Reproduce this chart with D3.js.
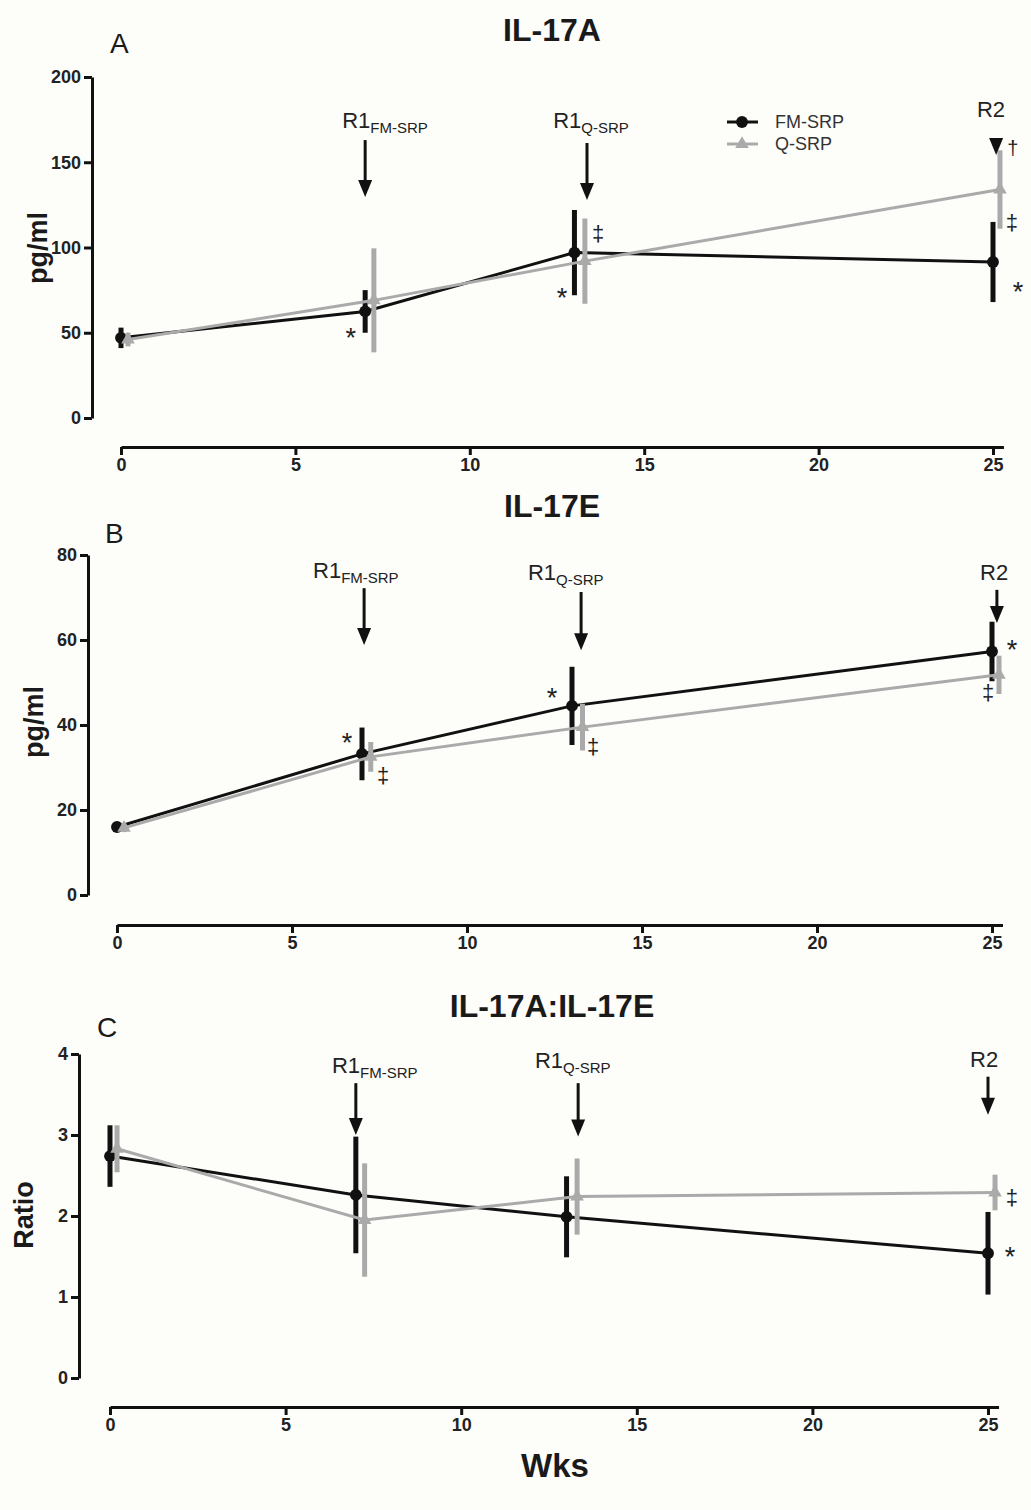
<!DOCTYPE html>
<html>
<head>
<meta charset="utf-8">
<script src="https://cdn.jsdelivr.net/npm/d3@7"></script>
<style>
  html, body { margin: 0; padding: 0; background: #fdfdfa; }
  svg { display: block; font-family: "Liberation Sans", Arial, Helvetica, sans-serif; }
</style>
</head>
<body>
<svg id="chart" width="1031" height="1510"></svg>
<script>
// weeks at which each group was sampled (Q-SRP slightly offset, as in the figure)
const weeksFM = [0, 7, 13, 25];
const weeksQ = [0.2, 7.25, 13.3, 25.2];
const xTicks = [0, 5, 10, 15, 20, 25];

// IL-17A (pg/ml)
const il17aFM = [47, 62.5, 97, 91.5];
const il17aFMsd = [6, 12.5, 25, 23.5];
const il17aQ = [46, 69, 92, 134];
const il17aQsd = [4, 30.5, 25, 23];
const il17aTicks = [0, 50, 100, 150, 200];

// IL-17E (pg/ml)
const il17eFM = [16, 33.2, 44.5, 57.3];
const il17eFMsd = [1, 6.2, 9.2, 7];
const il17eQ = [15.8, 32.5, 39.5, 51.8];
const il17eQsd = [1, 3.5, 5.5, 4.5];
const il17eTicks = [0, 20, 40, 60, 80];

// IL-17A:IL-17E ratio
const ratioFM = [2.74, 2.26, 1.99, 1.54];
const ratioFMsd = [0.38, 0.72, 0.5, 0.51];
const ratioQ = [2.83, 1.95, 2.24, 2.29];
const ratioQsd = [0.29, 0.7, 0.47, 0.22];
const ratioTicks = [0, 1, 2, 3, 4];

// treatment arrows: [label, subscript, arrow week, arrow top, arrow tip, label week, label baseline]
const arrowsA = [
  ['R1', 'FM-SRP', 7.0, 163, 129.6, 6.34, 170],
  ['R1', 'Q-SRP', 13.36, 161.3, 127.9, 12.39, 170],
  ['R2', '', 25.09, 155.5, 154.3, 24.54, 176.5]
];
const arrowsB = [
  ['R1', 'FM-SRP', 7.06, 72.2, 58.8, 5.6, 74.6],
  ['R1', 'Q-SRP', 13.26, 71.3, 57.6, 11.74, 74.1],
  ['R2', '', 25.14, 71.8, 64, 24.66, 74.1]
];
const arrowsC = [
  ['R1', 'FM-SRP', 7.0, 3.64, 3.0, 6.32, 3.77],
  ['R1', 'Q-SRP', 13.33, 3.64, 2.98, 12.1, 3.83],
  ['R2', '', 25.0, 3.72, 3.25, 24.49, 3.84]
];

// significance marks: [symbol, week, value]
const sigA = [
  ['*', 6.59, 50.4], ['*', 12.64, 73.9], ['‡', 13.68, 107.3],
  ['†', 25.57, 157.2], ['‡', 25.54, 113.8], ['*', 25.72, 77.4]
];
const sigB = [
  ['*', 6.57, 37.2], ['‡', 7.6, 27.8], ['*', 12.43, 47.8],
  ['‡', 13.6, 34.6], ['*', 25.57, 59.1], ['‡', 24.89, 47.3]
];
const sigC = [
  ['‡', 25.68, 2.21], ['*', 25.63, 1.57]
];

const black = '#111';
const grey = '#aaa';
const svg = d3.select('#chart');

// panel layout (pixels), kept apart from the data
const panels = [
  { letter: 'A', title: 'IL-17A', yLabel: 'pg/ml', fm: il17aFM, fmSd: il17aFMsd, q: il17aQ, qSd: il17aQsd,
    ticks: il17aTicks, arrows: arrowsA, sig: sigA, legend: true,
    x0: 121, ppw: 34.88, yAxisX: 92, xAxisY: 447, yBottom: 418, yTop: 77,
    titleY: 41, letterX: 110, letterY: 53, yLabelX: 47, yLabelY: 248 },
  { letter: 'B', title: 'IL-17E', yLabel: 'pg/ml', fm: il17eFM, fmSd: il17eFMsd, q: il17eQ, qSd: il17eQsd,
    ticks: il17eTicks, arrows: arrowsB, sig: sigB, legend: false,
    x0: 117, ppw: 35, yAxisX: 88, xAxisY: 925, yBottom: 895, yTop: 555,
    titleY: 517, letterX: 105, letterY: 543, yLabelX: 43, yLabelY: 722 },
  { letter: 'C', title: 'IL-17A:IL-17E', yLabel: 'Ratio', fm: ratioFM, fmSd: ratioFMsd, q: ratioQ, qSd: ratioQsd,
    ticks: ratioTicks, arrows: arrowsC, sig: sigC, legend: false,
    x0: 110, ppw: 35.12, yAxisX: 79, xAxisY: 1407, yBottom: 1378, yTop: 1054,
    titleY: 1017, letterX: 97, letterY: 1037, yLabelX: 33, yLabelY: 1215 }
];

// font size and baseline shift so each glyph is centred on its anchor
const glyphStyle = { '*': [27, 15], '‡': [22, 6], '†': [20, 5] };

function drawPanel(p) {
  const g = svg.append('g');
  const x = d3.scaleLinear().domain([0, 25.3]).range([p.x0, p.x0 + 25.3 * p.ppw]);
  const y = d3.scaleLinear().domain([0, d3.max(p.ticks)]).range([p.yBottom, p.yTop]);

  // axes, GraphPad style: detached x axis below the y axis
  const yAxis = g.append('g')
    .attr('transform', `translate(${p.yAxisX},0)`)
    .call(d3.axisLeft(y).tickValues(p.ticks).tickFormat(d3.format('d'))
      .tickSize(8).tickSizeOuter(0).tickPadding(3));
  const xAxis = g.append('g')
    .attr('transform', `translate(0,${p.xAxisY})`)
    .call(d3.axisBottom(x).tickValues(xTicks).tickFormat(d3.format('d'))
      .tickSize(8).tickSizeOuter(0).tickPadding(3));
  [yAxis, xAxis].forEach(a => {
    a.select('.domain').attr('stroke', black).attr('stroke-width', 3);
    a.selectAll('.tick line').attr('stroke', black).attr('stroke-width', 3);
    a.selectAll('.tick text').attr('fill', '#222').attr('font-size', 18).attr('font-weight', 'bold')
      .attr('font-family', '"Liberation Sans", Arial, sans-serif');
  });

  // titles
  g.append('text').attr('x', 552).attr('y', p.titleY).attr('text-anchor', 'middle')
    .attr('font-size', 32).attr('font-weight', 'bold').attr('fill', '#1a1a1a').text(p.title);
  g.append('text').attr('x', p.letterX).attr('y', p.letterY)
    .attr('font-size', 28).attr('fill', '#1a1a1a').text(p.letter);
  g.append('text').attr('transform', `translate(${p.yLabelX},${p.yLabelY}) rotate(-90)`)
    .attr('text-anchor', 'middle').attr('font-size', 27).attr('font-weight', 'bold')
    .attr('fill', '#1a1a1a').text(p.yLabel);

  // series
  const series = [
    { weeks: weeksFM, mean: p.fm, sd: p.fmSd, color: black, bar: 5, shape: 'circle' },
    { weeks: weeksQ, mean: p.q, sd: p.qSd, color: grey, bar: 5, shape: 'triangle' }
  ];
  const line = d3.line().x(d => x(d.w)).y(d => y(d.m));
  series.forEach(s => {
    const pts = s.weeks.map((w, i) => ({ w, m: s.mean[i], sd: s.sd[i] }));
    g.append('path').datum(pts).attr('d', line).attr('fill', 'none')
      .attr('stroke', s.color).attr('stroke-width', 3);
    g.selectAll(null).data(pts).enter().append('line')
      .attr('x1', d => x(d.w)).attr('x2', d => x(d.w))
      .attr('y1', d => y(d.m - d.sd)).attr('y2', d => y(d.m + d.sd))
      .attr('stroke', s.color).attr('stroke-width', s.bar);
    const sym = d3.symbol().type(s.shape === 'circle' ? d3.symbolCircle : d3.symbolTriangle)
      .size(s.shape === 'circle' ? 110 : 80);
    g.selectAll(null).data(pts).enter().append('path')
      .attr('d', sym).attr('transform', d => `translate(${x(d.w)},${y(d.m)})`)
      .attr('fill', s.color);
  });

  // treatment arrows
  p.arrows.forEach(([lab, sub, w, top, tip, lw, ly]) => {
    const ax = x(w), yTip = y(tip), yTop = y(top);
    const headLen = 17;
    if (yTip - yTop > headLen) {
      g.append('line').attr('x1', ax).attr('x2', ax).attr('y1', yTop).attr('y2', yTip - headLen + 2)
        .attr('stroke', black).attr('stroke-width', 3);
    }
    g.append('path')
      .attr('d', `M${ax - 7},${yTip - headLen}L${ax + 7},${yTip - headLen}L${ax},${yTip}Z`)
      .attr('fill', black);
    const t = g.append('text').attr('x', x(lw)).attr('y', y(ly)).attr('fill', '#222');
    t.append('tspan').attr('font-size', 22).text(lab);
    if (sub) t.append('tspan').attr('font-size', 15).attr('dy', 5).text(sub);
  });

  // significance marks
  p.sig.forEach(([sym, w, v]) => {
    const [fs, shift] = glyphStyle[sym];
    g.append('text').attr('x', x(w)).attr('y', y(v) + shift)
      .attr('text-anchor', 'middle').attr('font-size', fs)
      .attr('font-family', '"Liberation Sans", Arial, sans-serif')
      .attr('fill', '#222').text(sym);
  });

  // legend (panel A only)
  if (p.legend) {
    const items = [
      { name: 'FM-SRP', color: black, type: d3.symbolCircle, size: 110, y: 122 },
      { name: 'Q-SRP', color: grey, type: d3.symbolTriangle, size: 80, y: 144 }
    ];
    items.forEach(it => {
      g.append('line').attr('x1', 727).attr('x2', 758).attr('y1', it.y).attr('y2', it.y)
        .attr('stroke', it.color).attr('stroke-width', 3);
      g.append('path').attr('d', d3.symbol().type(it.type).size(it.size)())
        .attr('transform', `translate(742,${it.y})`).attr('fill', it.color);
      g.append('text').attr('x', 775).attr('y', it.y + 6).attr('font-size', 18)
        .attr('fill', '#333').text(it.name);
    });
  }
}

panels.forEach(drawPanel);

// shared x-axis title
svg.append('text').attr('x', 555).attr('y', 1477).attr('text-anchor', 'middle')
  .attr('font-size', 33).attr('font-weight', 'bold').attr('fill', '#1a1a1a').text('Wks');
</script>
</body>
</html>
